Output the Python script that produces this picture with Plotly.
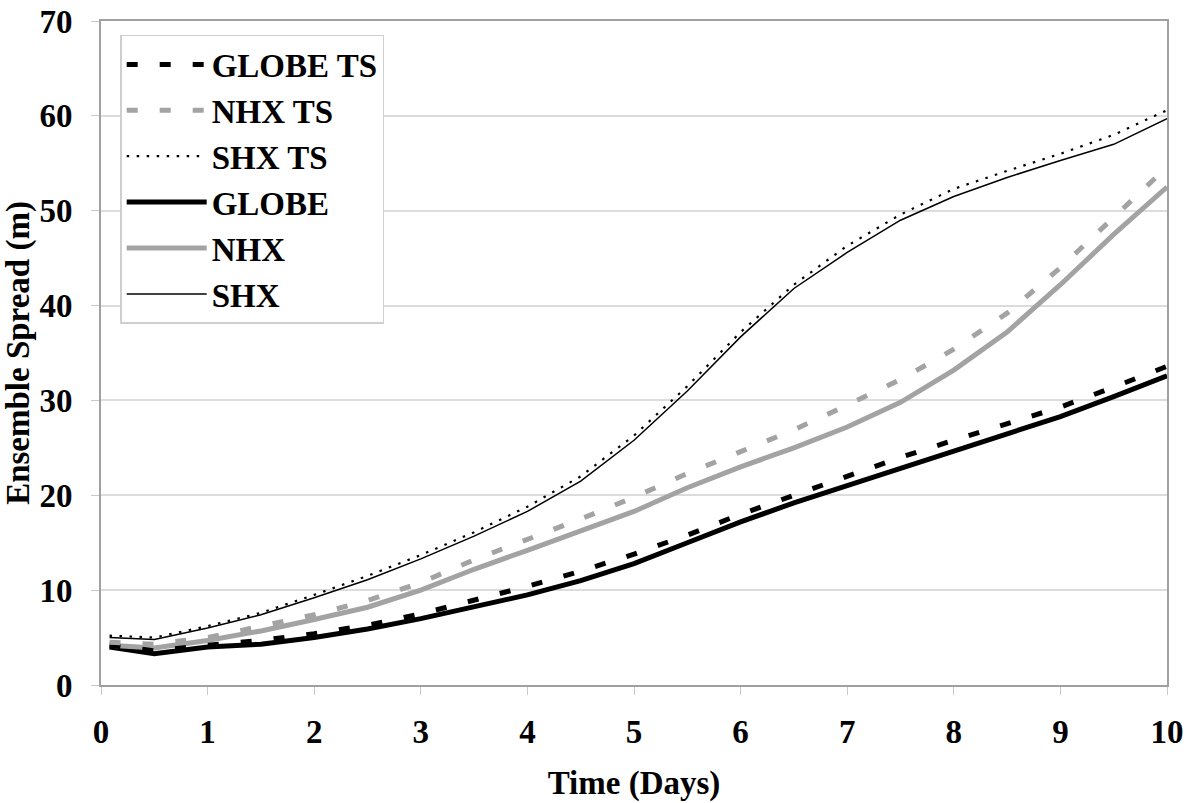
import plotly.graph_objects as go

# Forecast lead time (days)
days = [0.08, 0.5, 1, 1.5, 2, 2.5, 3, 3.5, 4, 4.5, 5, 5.5, 6, 6.5, 7, 7.5, 8, 8.5, 9, 9.5, 10]

# Ensemble spread (m) for each region / configuration
globe_ts = [4.2, 3.6, 4.2, 4.7, 5.4, 6.3, 7.5, 8.9, 10.4, 12.0, 13.8, 15.8, 18.0, 20.0, 22.0, 24.0, 25.8, 27.5, 29.3, 31.4, 33.6]
nhx_ts   = [4.5, 4.3, 5.0, 6.2, 7.4, 8.9, 10.8, 13.2, 15.3, 17.5, 19.8, 22.3, 24.6, 26.9, 29.5, 32.2, 35.4, 39.2, 44.0, 49.3, 54.6]
shx_ts   = [5.2, 5.0, 6.2, 7.6, 9.5, 11.5, 13.7, 16.1, 18.8, 22.0, 26.3, 31.5, 37.2, 42.2, 46.3, 49.6, 52.3, 54.2, 56.0, 58.0, 60.6]
globe    = [4.0, 3.3, 4.0, 4.3, 5.0, 5.9, 7.0, 8.2, 9.5, 11.0, 12.8, 15.0, 17.2, 19.2, 21.0, 22.8, 24.6, 26.4, 28.3, 30.4, 32.6]
nhx      = [4.2, 3.9, 4.7, 5.7, 6.9, 8.2, 10.0, 12.2, 14.2, 16.2, 18.3, 20.8, 23.0, 25.0, 27.2, 29.8, 33.2, 37.2, 42.2, 47.5, 52.5]
shx      = [5.0, 4.8, 6.0, 7.4, 9.2, 11.1, 13.3, 15.7, 18.3, 21.5, 25.8, 31.0, 36.7, 41.8, 45.6, 49.0, 51.5, 53.5, 55.3, 57.0, 59.7]

x_ticks = [0, 1, 2, 3, 4, 5, 6, 7, 8, 9, 10]
y_ticks = [0, 10, 20, 30, 40, 50, 60, 70]

BLACK = "#000000"
GRAY = "#a3a3a3"
FONT = "Liberation Serif"

series = [
    ("GLOBE TS", globe_ts, BLACK, 5, "11px,22px"),
    ("NHX TS", nhx_ts, GRAY, 5, "11px,22px"),
    ("SHX TS", shx_ts, BLACK, 2.2, "2.5px,7.5px"),
    ("GLOBE", globe, BLACK, 5, "solid"),
    ("NHX", nhx, GRAY, 5, "solid"),
    ("SHX", shx, BLACK, 1.5, "solid"),
]

fig = go.Figure()
# draw solid curves underneath the dashed ones
draw_order = [3, 4, 5, 0, 1, 2]
for i in draw_order:
    name, vals, color, width, dash = series[i]
    fig.add_trace(go.Scatter(
        x=days, y=vals, mode="lines", name=name,
        legendgroup=name, legendrank=i + 1,
        line=dict(color=color, width=width, dash=dash),
    ))

axis_common = dict(
    showline=True, linecolor="#a0a0a0", linewidth=2, mirror=True,
    ticks="outside", tickcolor="#c8c8c8", ticklen=8, tickwidth=1,
    tickfont=dict(family=FONT, size=33, color="black", weight="bold"),
    zeroline=False,
)

fig.update_xaxes(
    range=[0, 10], tickvals=x_ticks, showgrid=False,
    title=dict(text="<b>Time (Days)</b>", font=dict(family=FONT, size=33, color="black"), standoff=22),
    ticklabelstandoff=8,
    **axis_common,
)
fig.update_yaxes(
    range=[0, 70], tickvals=y_ticks, showgrid=True, gridcolor="#dcdcdc", gridwidth=1.5,
    title=dict(text="<b>Ensemble Spread (m)</b>", font=dict(family=FONT, size=33, color="black"), standoff=10),
    ticklabelstandoff=12,
    **axis_common,
)

fig.update_layout(
    width=1186, height=803,
    margin=dict(l=101, r=19, t=21, b=118, autoexpand=False),
    paper_bgcolor="white", plot_bgcolor="white",
    showlegend=True,
    legend=dict(
        x=0.018, y=0.979, xanchor="left", yanchor="top",
        bgcolor="white", bordercolor="#cfcfcf", borderwidth=1.5,
        font=dict(family=FONT, size=33, color="black", weight="bold"),
        itemwidth=80, traceorder="grouped", tracegroupgap=0,
        itemclick=False,
    ),
)

fig.write_html("out.html")
